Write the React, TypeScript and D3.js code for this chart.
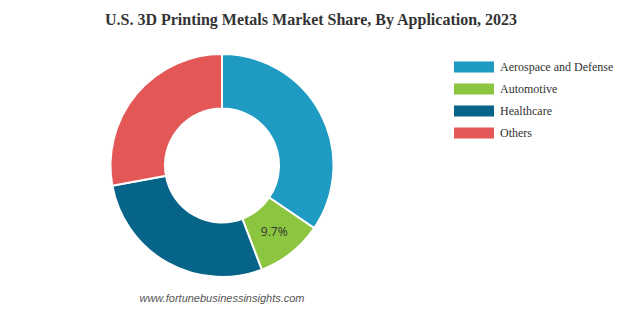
import React from "react";
import * as d3 from "d3";

const categories = ["Aerospace and Defense", "Automotive", "Healthcare", "Others"];
const shares = [34.5, 9.7, 27.9, 27.9];
const colors = ["#1e9ac3", "#8cc540", "#056487", "#e35757"];
const labelled = ["Automotive"];
const title = "U.S. 3D Printing Metals Market Share, By Application, 2023";
const source = "www.fortunebusinessinsights.com";

const W = 623;
const H = 310;
const cx = 222;
const cy = 165.5;
const outerR = 111.5;
const innerR = 57;

export default function App() {
  const data = categories.map((c, i) => ({ cat: c, value: shares[i], color: colors[i] }));
  const pie = d3.pie<any>().value((d: any) => d.value).sort(null);
  const arcs = pie(data);
  const arc = d3.arc<any>().innerRadius(innerR).outerRadius(outerR);
  const legendY = d3.scaleBand().domain(categories).range([56, 144]);

  return (
    <svg width={W} height={H} style={{ position: "absolute", left: 0, top: 0, background: "#fff" }}>
      <text x={311} y={25} textAnchor="middle" fontFamily="'Liberation Serif', 'Times New Roman', serif" fontWeight="bold" fontSize={16} fill="#333">
        {title}
      </text>
      <g transform={`translate(${cx},${cy})`}>
        {arcs.map((a, i) => (
          <path key={i} d={arc(a) as string} fill={a.data.color} stroke="#fff" strokeWidth={2} />
        ))}
        {arcs
          .filter((a) => labelled.includes(a.data.cat))
          .map((a, i) => {
            const [x, y] = arc.centroid(a);
            return (
              <text key={i} x={x} y={y} dy="0.35em" textAnchor="middle" fontFamily="'Open Sans', 'DejaVu Sans', sans-serif" fontSize={12} fill="#333">
                {`${a.data.value}%`}
              </text>
            );
          })}
      </g>
      <g>
        {categories.map((c, i) => {
          const y = (legendY(c) as number) + legendY.bandwidth() / 2;
          return (
            <g key={c}>
              <rect x={454} y={y - 5.5} width={40} height={11} fill={colors[i]} />
              <text x={500} y={y} dy="0.35em" fontFamily="'Liberation Serif', 'Times New Roman', serif" fontSize={12} fill="#333">
                {c}
              </text>
            </g>
          );
        })}
      </g>
      <text x={222} y={302} textAnchor="middle" fontFamily="'Liberation Sans', Arial, sans-serif" fontStyle="italic" fontSize={11} fill="#555">
        {source}
      </text>
    </svg>
  );
}
